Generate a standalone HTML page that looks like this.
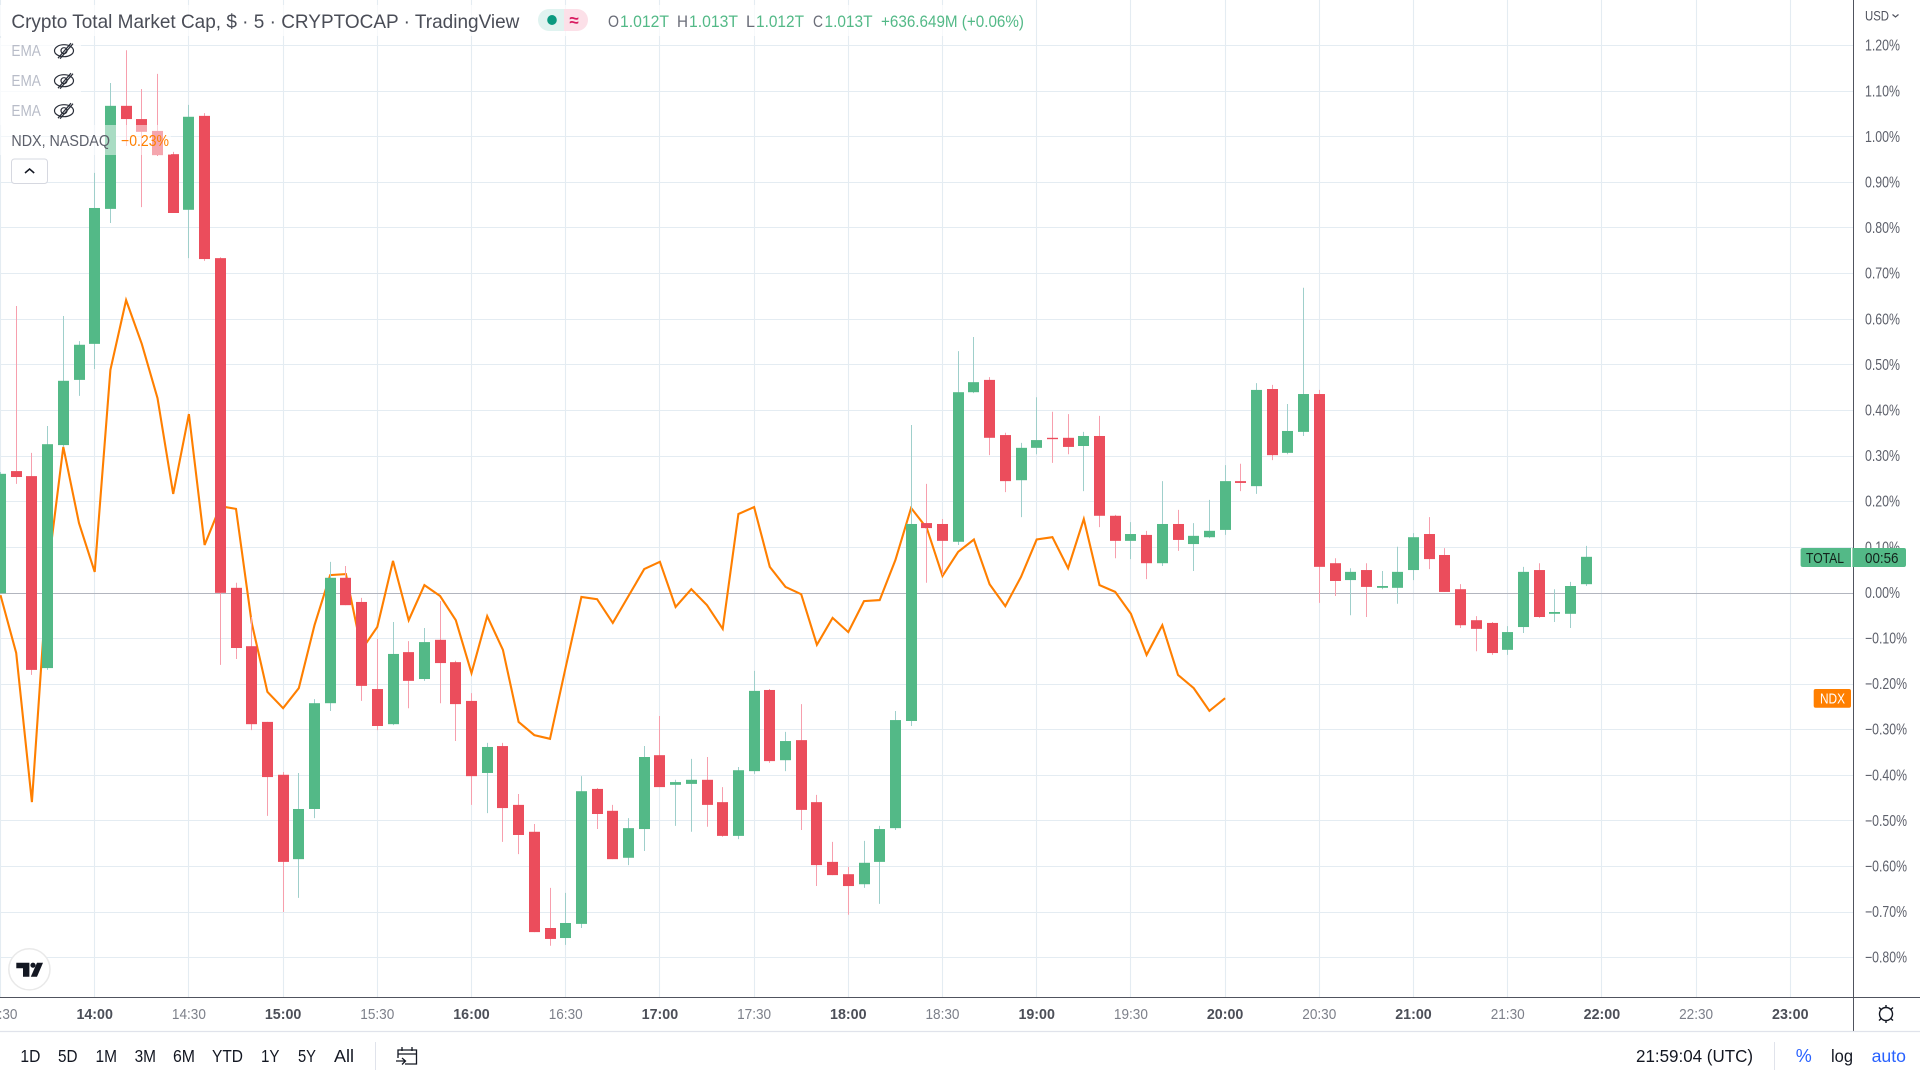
<!DOCTYPE html>
<html lang="en">
<head>
<meta charset="utf-8">
<title>Crypto Total Market Cap chart</title>
<style>
html,body{margin:0;padding:0;background:#fff;width:1920px;height:1080px;overflow:hidden}
svg{display:block;font-family:"Liberation Sans",sans-serif}
text{white-space:pre}
</style>
</head>
<body>
<svg id="chart" xmlns="http://www.w3.org/2000/svg" width="1920" height="1080" viewBox="0 0 1920 1080">
  <rect x="0" y="0" width="1920" height="1080" fill="#ffffff"/>
  <defs><clipPath id="pane-clip"><rect x="0" y="0" width="1853" height="997"/></clipPath></defs>
  <g id="grid"></g>
  <g id="series" clip-path="url(#pane-clip)"></g>

  <rect x="0" y="5" width="1030" height="31" fill="#ffffff" fill-opacity="0.7"/>
  <rect x="0" y="38" width="81" height="87" fill="#ffffff" fill-opacity="0.75"/>
  <rect x="0" y="125" width="171" height="30" fill="#ffffff" fill-opacity="0.5"/>

  <text x="11.4" y="28" font-size="19.5" fill="#4a4d57" textLength="508" lengthAdjust="spacingAndGlyphs">Crypto Total Market Cap, $ · 5 · CRYPTOCAP · TradingView</text>

  <g>
    <path d="M549 9H564V31H549A11 11 0 0 1 549 9Z" fill="#e0f3f0"/>
    <path d="M564 9H577A11 11 0 0 1 577 31H564Z" fill="#fce0e8"/>
    <ellipse cx="552" cy="20" rx="4.8" ry="5" fill="#0a9a80"/>
    <text x="574" y="26" font-size="17" font-weight="bold" fill="#d81b60" text-anchor="middle">≈</text>
  </g>

  <g font-size="16.5">
    <text x="608" y="27" fill="#6a6d78" textLength="11" lengthAdjust="spacingAndGlyphs">O</text>
    <text x="620" y="27" fill="#53b987" textLength="49" lengthAdjust="spacingAndGlyphs">1.012T</text>
    <text x="677" y="27" fill="#6a6d78" textLength="11" lengthAdjust="spacingAndGlyphs">H</text>
    <text x="689" y="27" fill="#53b987" textLength="49" lengthAdjust="spacingAndGlyphs">1.013T</text>
    <text x="746" y="27" fill="#6a6d78" textLength="9" lengthAdjust="spacingAndGlyphs">L</text>
    <text x="756" y="27" fill="#53b987" textLength="48" lengthAdjust="spacingAndGlyphs">1.012T</text>
    <text x="813" y="27" fill="#6a6d78" textLength="10" lengthAdjust="spacingAndGlyphs">C</text>
    <text x="824.5" y="27" fill="#53b987" textLength="48" lengthAdjust="spacingAndGlyphs">1.013T</text>
    <text x="881" y="27" fill="#53b987" textLength="143" lengthAdjust="spacingAndGlyphs">+636.649M (+0.06%)</text>
  </g>

  <g>
    <text x="11.4" y="56" font-size="16" fill="#b8bcc8" textLength="29.5" lengthAdjust="spacingAndGlyphs">EMA</text>
    <g transform="translate(64 50.7)" fill="none" stroke="#2a2e39" stroke-width="1.2">
      <ellipse rx="9.5" ry="6"/><circle r="3"/><line x1="-6" y1="7.5" x2="7" y2="-7.5"/><line x1="-4" y1="8" x2="9" y2="-7"/>
    </g>
  </g>
  <g>
    <text x="11.4" y="86" font-size="16" fill="#b8bcc8" textLength="29.5" lengthAdjust="spacingAndGlyphs">EMA</text>
    <g transform="translate(64 80.7)" fill="none" stroke="#2a2e39" stroke-width="1.2">
      <ellipse rx="9.5" ry="6"/><circle r="3"/><line x1="-6" y1="7.5" x2="7" y2="-7.5"/><line x1="-4" y1="8" x2="9" y2="-7"/>
    </g>
  </g>
  <g>
    <text x="11.4" y="116" font-size="16" fill="#b8bcc8" textLength="29.5" lengthAdjust="spacingAndGlyphs">EMA</text>
    <g transform="translate(64 110.7)" fill="none" stroke="#2a2e39" stroke-width="1.2">
      <ellipse rx="9.5" ry="6"/><circle r="3"/><line x1="-6" y1="7.5" x2="7" y2="-7.5"/><line x1="-4" y1="8" x2="9" y2="-7"/>
    </g>
  </g>
  <g>
    <text x="11.4" y="146" font-size="16" fill="#5d606b" textLength="98.6" lengthAdjust="spacingAndGlyphs">NDX, NASDAQ</text>
    <text x="121" y="146" font-size="16" fill="#ff7f00" textLength="48" lengthAdjust="spacingAndGlyphs">−0.23%</text>
  </g>
  <g>
    <rect x="11.5" y="159" width="36" height="24.5" rx="3" fill="#ffffff" stroke="#d6d8e0"/>
    <path d="M25 173L29.6 169L34.2 173" fill="none" stroke="#131722" stroke-width="1.5"/>
  </g>

  <g>
    <circle cx="29.4" cy="969.3" r="20.6" fill="#ffffff" stroke="#e9e9e9" stroke-width="1.5"/>
    <path d="M16.3 962.7H29.4V976.7H23V968.2H16.3Z" fill="#131722"/>
    <circle cx="33" cy="965.2" r="2.6" fill="#131722"/>
    <path d="M37 962.7H43L37 976.7H30.8Z" fill="#131722"/>
  </g>

  <rect x="0" y="997.5" width="1853" height="34" fill="#ffffff"/>
  <rect x="1854" y="0" width="66" height="1031" fill="#ffffff"/>
  <line x1="1853.5" y1="0" x2="1853.5" y2="1031" stroke="#50535e"/>
  <line x1="0" y1="997.5" x2="1920" y2="997.5" stroke="#50535e"/>
  <line x1="0" y1="1031.5" x2="1920" y2="1031.5" stroke="#e0e3eb" stroke-width="1.2"/>
  <g id="price-labels"></g>
  <g id="time-labels"></g>

  <g>
    <text x="1865" y="20.5" font-size="14" fill="#50535e" textLength="24" lengthAdjust="spacingAndGlyphs">USD</text>
    <path d="M1892.5 14.5L1895.5 17L1898.5 14.5" fill="none" stroke="#50535e" stroke-width="1.2"/>
  </g>

  <g>
    <path d="M1803 548H1851V567H1803Q1800.6 567 1800.6 565V550Q1800.6 548 1803 548Z" fill="#53b987"/>
    <text x="1806" y="563" font-size="15" fill="#13231c" textLength="38" lengthAdjust="spacingAndGlyphs">TOTAL</text>
    <path d="M1852.4 548H1904Q1906 548 1906 550V565Q1906 567 1904 567H1852.4Z" fill="#53b987"/>
    <text x="1865" y="563" font-size="15" fill="#13231c" textLength="33.5" lengthAdjust="spacingAndGlyphs">00:56</text>
  </g>
  <g>
    <rect x="1813.7" y="689" width="37.3" height="18.7" rx="2" fill="#ff7f00"/>
    <text x="1820" y="703.5" font-size="15" fill="#ffffff" textLength="25" lengthAdjust="spacingAndGlyphs">NDX</text>
  </g>

  <g transform="translate(1886 1014)" fill="none" stroke="#131722" stroke-width="1.4">
    <circle r="6.5"/>
    <path d="M0-9V-6.5M0 6.5V9M-7-6.5L-4.8-4.5M7-6.5L4.8-4.5M-7 6.5L-4.8 4.5M7 6.5L4.8 4.5"/>
  </g>

  <g font-size="17.5" fill="#131722">
    <text x="20.4" y="1062" textLength="20" lengthAdjust="spacingAndGlyphs">1D</text>
    <text x="58" y="1062" textLength="19.5" lengthAdjust="spacingAndGlyphs">5D</text>
    <text x="95.5" y="1062" textLength="21.5" lengthAdjust="spacingAndGlyphs">1M</text>
    <text x="134.6" y="1062" textLength="21.4" lengthAdjust="spacingAndGlyphs">3M</text>
    <text x="173" y="1062" textLength="22" lengthAdjust="spacingAndGlyphs">6M</text>
    <text x="212" y="1062" textLength="31" lengthAdjust="spacingAndGlyphs">YTD</text>
    <text x="261" y="1062" textLength="18.5" lengthAdjust="spacingAndGlyphs">1Y</text>
    <text x="298" y="1062" textLength="18" lengthAdjust="spacingAndGlyphs">5Y</text>
    <text x="334" y="1062" textLength="20" lengthAdjust="spacingAndGlyphs">All</text>
  </g>
  <line x1="375.5" y1="1042" x2="375.5" y2="1070" stroke="#e0e3eb"/>
  <g fill="none" stroke="#131722" stroke-width="1.3">
    <path d="M398 1058V1050H416.5V1064H405"/>
    <path d="M398 1054H416.5M402 1047V1051M412 1047V1051"/>
    <path d="M396 1061H405M402 1058L405.5 1061L402 1064.5"/>
  </g>

  <text x="1636" y="1062" font-size="17.5" fill="#131722" textLength="117" lengthAdjust="spacingAndGlyphs">21:59:04 (UTC)</text>
  <line x1="1774.5" y1="1042" x2="1774.5" y2="1070" stroke="#e0e3eb"/>
  <text x="1795.7" y="1062" font-size="18" fill="#2962ff" textLength="16" lengthAdjust="spacingAndGlyphs">%</text>
  <text x="1831" y="1062" font-size="17.5" fill="#131722" textLength="22" lengthAdjust="spacingAndGlyphs">log</text>
  <text x="1871.6" y="1062" font-size="17.5" fill="#2962ff" textLength="34.4" lengthAdjust="spacingAndGlyphs">auto</text>
</svg>

<script>
// Candle index -6 = 13:30, index 0 = 14:00, one candle every 5 minutes. Values are % change.
const firstBarIndex = -6;
const opens = [0,.268,.257,-.164,.325,.468,.547,.843,1.069,1.040,1.014,.963,.841,1.047,.735,.012,-.116,-.282,-.398,-.583,-.473,-.241,.034,-.019,-.210,-.287,-.129,-.188,-.102,-.151,-.236,-.394,-.335,-.464,-.523,-.734,-.756,-.725,-.429,-.477,-.580,-.517,-.355,-.420,-.418,-.409,-.458,-.532,-.390,-.212,-.366,-.322,-.458,-.589,-.616,-.638,-.589,-.515,-.280,.154,.152,.113,.441,.468,.347,.248,.319,.341,.341,.323,.345,.170,.115,.128,.066,.152,.108,.123,.139,.246,.235,.448,.308,.354,.437,.066,.029,.051,.012,.012,.051,.130,.084,.009,-.059,-.065,-.124,-.074,.051,-.045,-.045,.020];
const highs = [.266,.630,.308,.367,.608,.553,.922,1.119,1.191,1.106,1.139,.968,1.071,1.053,.737,.023,-.052,-.282,-.392,-.394,-.232,.069,.060,-.010,-.100,-.063,-.105,-.076,-.017,-.148,-.219,-.328,-.328,-.440,-.506,-.646,-.657,-.401,-.427,-.464,-.493,-.335,-.269,-.409,-.363,-.359,-.425,-.381,-.170,-.210,-.304,-.243,-.442,-.545,-.600,-.543,-.510,-.258,.369,.240,.163,.531,.562,.474,.352,.330,.430,.398,.393,.354,.389,.172,.156,.137,.246,.183,.154,.205,.281,.284,.461,.457,.415,.670,.446,.077,.055,.066,.049,.102,.132,.167,.099,.020,-.050,-.063,-.072,.058,.066,.009,.025,.104];
const lows = [0,.240,-.179,-.168,.321,.433,.492,.812,.981,.847,.959,.834,.735,.729,-.157,-.144,-.300,-.488,-.699,-.668,-.493,-.258,-.026,-.236,-.300,-.289,-.252,-.192,-.241,-.324,-.464,-.482,-.545,-.572,-.743,-.773,-.771,-.734,-.517,-.583,-.596,-.565,-.425,-.510,-.523,-.512,-.534,-.539,-.396,-.372,-.390,-.519,-.642,-.618,-.705,-.646,-.681,-.519,-.291,.023,.040,.106,.439,.303,.222,.167,.305,.286,.305,.224,.145,.077,.075,.031,.060,.093,.049,.121,.128,.224,.218,.292,.305,.345,-.021,-.006,-.048,-.052,.009,-.023,.029,.053,.003,-.076,-.127,-.135,-.135,-.087,-.054,-.063,-.076,.016];
const closes = [.262,.255,-.168,.327,.466,.545,.845,1.069,1.040,1.012,.961,.834,1.045,.733,.001,-.120,-.287,-.403,-.589,-.473,-.241,.034,-.026,-.203,-.291,-.133,-.192,-.107,-.153,-.243,-.401,-.337,-.471,-.530,-.743,-.758,-.723,-.434,-.484,-.583,-.515,-.359,-.425,-.414,-.409,-.464,-.532,-.388,-.214,-.368,-.324,-.475,-.596,-.618,-.642,-.591,-.517,-.278,.152,.143,.115,.441,.463,.341,.246,.319,.336,.338,.321,.345,.170,.115,.130,.066,.152,.117,.126,.137,.246,.242,.446,.303,.356,.437,.058,.027,.047,.014,.016,.047,.123,.075,.003,-.070,-.078,-.131,-.085,.047,-.052,-.041,.016,.080];
const ndxValues = [-.004,-.131,-.458,.045,.321,.154,.047,.490,.643,.547,.428,.218,.393,.106,.191,.185,-.065,-.216,-.252,-.208,-.070,.040,.042,-.124,-.074,.071,-.059,.018,-.006,-.059,-.175,-.050,-.124,-.282,-.311,-.319,-.162,-.008,-.013,-.065,-.006,.053,.069,-.030,.009,-.026,-.078,.174,.189,.058,.014,-.002,-.113,-.054,-.085,-.017,-.015,.073,.187,.143,.038,.091,.118,.020,-.028,.036,.118,.123,.055,.163,.018,.003,-.045,-.135,-.070,-.179,-.208,-.258,-.230];
const priceTicks = [1.2,1.1,1.0,0.9,0.8,0.7,0.6,0.5,0.4,0.3,0.2,0.1,0,-0.1,-0.2,-0.3,-0.4,-0.5,-0.6,-0.7,-0.8];
const timeTicks = ["13:30","14:00","14:30","15:00","15:30","16:00","16:30","17:00","17:30","18:00","18:30","19:00","19:30","20:00","20:30","21:00","21:30","22:00","22:30","23:00"];

const xScale = function (barIndex) { return 94.7 + 15.7 * barIndex; };
const yScale = function (pct) { return 593.3 - 456 * pct; };
const timeTickX = function (label) {
  const parts = label.split(":");
  const minutes = (Number(parts[0]) - 14) * 60 + Number(parts[1]);
  return xScale(minutes / 5);
};

const NS = "http://www.w3.org/2000/svg";
function mk(tag, attrs, parent) {
  const el = document.createElementNS(NS, tag);
  for (const key in attrs) { el.setAttribute(key, attrs[key]); }
  parent.appendChild(el);
  return el;
}
const gridLayer = document.getElementById("grid");
const seriesLayer = document.getElementById("series");
const priceLabelLayer = document.getElementById("price-labels");
const timeLabelLayer = document.getElementById("time-labels");

priceTicks.forEach(function (tick) {
  const y = Math.round(yScale(tick)) - 0.5;
  if (tick !== 0) {
    const line = mk("line", { x1: 0, x2: 1853, y1: y, y2: y, stroke: "#e4ecf2", "stroke-width": 1.1 }, gridLayer);
    
    
  }
  const negative = tick < 0;
  const label = mk("text", { x: 1865, y: yScale(tick) + 4.6, "font-size": 15.5, fill: "#5d606b", textLength: negative ? 42 : 35, lengthAdjust: "spacingAndGlyphs" }, priceLabelLayer);
  
  
  label.textContent = (negative ? "−" : "") + Math.abs(tick).toFixed(2) + "%";
});

timeTicks.forEach(function (tick) {
  const x = timeTickX(tick);
  const crisp = Math.floor(x) + 0.5;
  const line = mk("line", { x1: crisp, x2: crisp, y1: 0, y2: 997, stroke: "#e4ecf2", "stroke-width": 1.1 }, gridLayer);
  
  
  const isHour = tick.slice(-2) === "00";
  const label = mk("text", { x: x, y: 1019.2, "font-size": 15, "text-anchor": "middle", fill: isHour ? "#4c4f58" : "#7d808a", "font-weight": isHour ? "bold" : "normal", textLength: isHour ? 36.5 : 34, lengthAdjust: "spacingAndGlyphs" }, timeLabelLayer);
  
  
  label.textContent = tick;
});

const zeroY = Math.round(yScale(0)) + 0.5;
const zeroLine = mk("line", { x1: 0, x2: 1853, y1: zeroY, y2: zeroY, stroke: "#b2b5be", "stroke-width": 1.1 }, seriesLayer);



const ndxPoints = ndxValues.map(function (value, n) {
  return xScale(firstBarIndex + n).toFixed(1) + "," + yScale(value).toFixed(1);
}).join(" ");
const ndxLine = mk("polyline", { points: ndxPoints, fill: "none", stroke: "#ff7f00", "stroke-width": 2.1, "stroke-linejoin": "miter" }, seriesLayer);



opens.forEach(function (open, n) {
  const close = closes[n];
  const rising = close >= open;
  const x = xScale(firstBarIndex + n);
  const top = yScale(Math.max(open, close));
  const bottom = yScale(Math.min(open, close));
  const group = mk("g", {}, seriesLayer);
  
  
  const wick = mk("line", { x1: Math.floor(x) + 0.5, x2: Math.floor(x) + 0.5, y1: yScale(highs[n]), y2: yScale(lows[n]), stroke: rising ? "#9fcfcb" : "#f79fad", "stroke-width": 1 }, group);
  
  
  const body = mk("rect", { x: Math.floor(x) - 5, y: top, width: 11, height: Math.max(1.2, bottom - top), fill: rising ? "#53b987" : "#eb4d5c" }, group);
  
  
});
</script>
</body>
</html>
